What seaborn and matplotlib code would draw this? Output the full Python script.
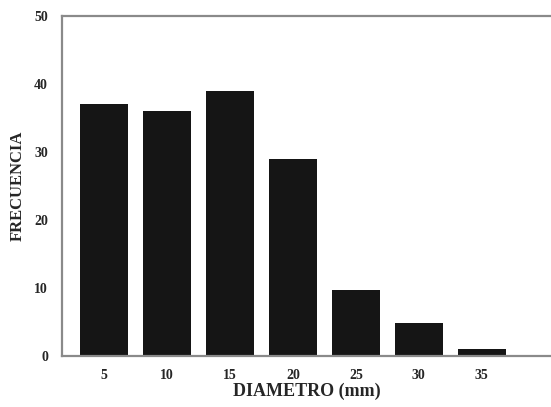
import matplotlib
matplotlib.use("Agg")
import matplotlib.pyplot as plt
import seaborn as sns
import pandas as pd

diametros = ['5', '10', '15', '20', '25', '30', '35']
frecuencias = [37, 36, 39, 29, 9.7, 4.8, 1]
y_ticks = [0, 10, 20, 30, 40, 50]

sns.set_style('white')
plt.rcParams['font.family'] = ['Liberation Serif', 'DejaVu Serif']

df = pd.DataFrame({'diametro': diametros, 'frecuencia': frecuencias})

fig = plt.figure(figsize=(5.51, 4.07), dpi=100)
ax = fig.add_axes([0.1125, 0.1253, 0.8875, 0.8354])

sns.barplot(data=df, x='diametro', y='frecuencia', color='#151515',
            saturation=1, width=0.76, linewidth=0, ax=ax)

ax.set_xlim(-0.67, 7.1)
ax.set_ylim(0, 50)
ax.set_yticks(y_ticks)

for side in ['left', 'bottom', 'top']:
    ax.spines[side].set_color('#8a8a8a')
    ax.spines[side].set_linewidth(1.6)
ax.spines['right'].set_visible(False)

ax.tick_params(axis='y', direction='in', length=5, width=1, color='#8a8a8a',
               labelsize=10, pad=10)
ax.tick_params(axis='x', length=0, labelsize=10, pad=9)
for lbl in ax.get_xticklabels() + ax.get_yticklabels():
    lbl.set_fontweight('bold')

ax.set_xlabel('DIAMETRO (mm)', fontsize=13, fontweight='bold', labelpad=1)
ax.set_ylabel('FRECUENCIA', fontsize=12, fontweight='bold', labelpad=6)

fig.savefig('out.png', dpi=100, facecolor='white')
